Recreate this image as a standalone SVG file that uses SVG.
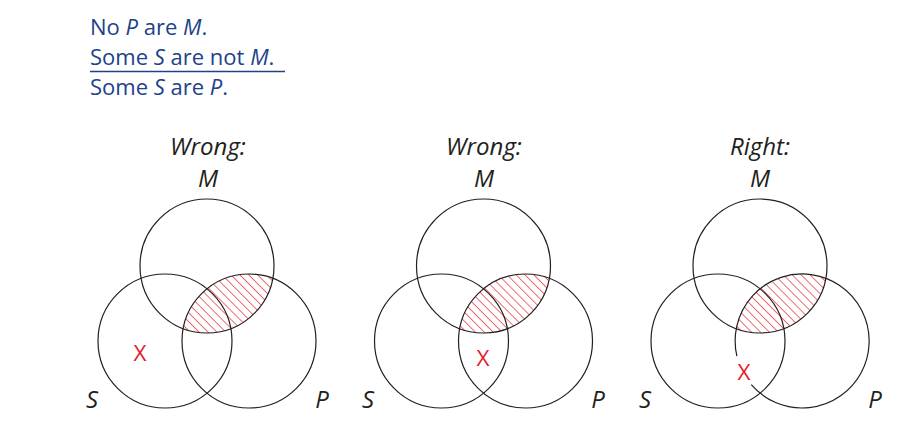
<svg xmlns="http://www.w3.org/2000/svg" width="918" height="438" viewBox="0 0 918 438">
<style>
.t{font-family:"Open Sans","Noto Sans","Liberation Sans",sans-serif;font-size:22px;fill:#21418a}
.lbl{font-family:"Open Sans","Noto Sans","Liberation Sans",sans-serif;font-size:24px;font-style:italic;fill:#231f20}
.x{font-family:"Open Sans","Noto Sans","Liberation Sans",sans-serif;font-size:22.5px;fill:#e4202a}
.c{fill:none;stroke:#231f20;stroke-width:1.2}
.h{fill:url(#hatch);stroke:none}
</style>
<defs>
<pattern id="hatch" patternUnits="userSpaceOnUse" width="6.3" height="6.3" patternTransform="rotate(-45)">
<line x1="0" y1="0" x2="0" y2="6.3" stroke="#e4202a" stroke-width="1.3"/>
</pattern>
<clipPath id="cm1"><circle cx="207" cy="266" r="67"/></clipPath>
<clipPath id="cm2"><circle cx="483.5" cy="266" r="67"/></clipPath>
<clipPath id="cm3"><circle cx="760" cy="266" r="67"/></clipPath>
</defs>
<g id="premises">
<text class="t" x="90" y="35">No <tspan font-style="italic">P</tspan> are <tspan font-style="italic">M</tspan>.</text>
<text class="t" x="90" y="65">Some <tspan font-style="italic">S</tspan> are not <tspan font-style="italic">M</tspan>.</text>
<line x1="90" y1="71.5" x2="285" y2="71.5" stroke="#21418a" stroke-width="1.3"/>
<text class="t" x="90" y="95">Some <tspan font-style="italic">S</tspan> are <tspan font-style="italic">P</tspan>.</text>
</g>
<g id="diagram1">
<text class="lbl" x="208" y="155" text-anchor="middle">Wrong:</text>
<text class="lbl" x="208" y="187" text-anchor="middle">M</text>
<circle class="h" cx="249" cy="341" r="67" clip-path="url(#cm1)"/>
<circle class="c" cx="207" cy="266" r="67"/>
<circle class="c" cx="165" cy="341" r="67"/>
<circle class="c" cx="249" cy="341" r="67"/>
<text class="lbl" x="92" y="408" text-anchor="middle">S</text>
<text class="lbl" x="322" y="408" text-anchor="middle">P</text>
<text class="x" x="140" y="361" text-anchor="middle">X</text>
</g>
<g id="diagram2">
<text class="lbl" x="484" y="155" text-anchor="middle">Wrong:</text>
<text class="lbl" x="484" y="187" text-anchor="middle">M</text>
<circle class="h" cx="525.5" cy="341" r="67" clip-path="url(#cm2)"/>
<circle class="c" cx="483.5" cy="266" r="67"/>
<circle class="c" cx="441.5" cy="341" r="67"/>
<circle class="c" cx="525.5" cy="341" r="67"/>
<text class="lbl" x="368" y="408" text-anchor="middle">S</text>
<text class="lbl" x="598" y="408" text-anchor="middle">P</text>
<text class="x" x="483" y="366" text-anchor="middle">X</text>
</g>
<g id="diagram3">
<text class="lbl" x="760" y="155" text-anchor="middle">Right:</text>
<text class="lbl" x="760" y="187" text-anchor="middle">M</text>
<circle class="h" cx="802" cy="341" r="67" clip-path="url(#cm3)"/>
<circle class="c" cx="760" cy="266" r="67"/>
<circle class="c" cx="718" cy="341" r="67"/>
<path class="c" d="M 736.9 356.2 A 67 67 0 1 1 751.3 384.6"/>
<text class="lbl" x="645" y="408" text-anchor="middle">S</text>
<text class="lbl" x="875" y="408" text-anchor="middle">P</text>
<text class="x" x="744" y="380" text-anchor="middle">X</text>
</g>
</svg>
